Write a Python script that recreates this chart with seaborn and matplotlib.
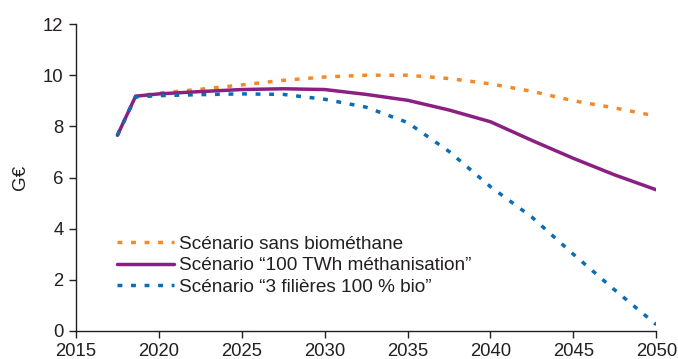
import seaborn as sns
import matplotlib.pyplot as plt
import pandas as pd

years = [2017.5, 2018.6, 2020, 2022.5, 2025, 2027.5, 2030, 2032.5, 2035,
         2037.5, 2040, 2042.5, 2045, 2047.5, 2050]
sans_bio = [7.65, 9.18, 9.3, 9.45, 9.62, 9.8, 9.93, 10.0, 10.0,
            9.87, 9.66, 9.37, 9.0, 8.72, 8.4]
twh_100 = [7.65, 9.18, 9.27, 9.36, 9.44, 9.47, 9.44, 9.25, 9.02,
           8.64, 8.18, 7.45, 6.75, 6.1, 5.52]
bio_100 = [7.65, 9.15, 9.2, 9.24, 9.27, 9.25, 9.06, 8.75, 8.15,
           7.02, 5.64, 4.45, 3.0, 1.6, 0.25]

labels = ["Scénario sans biométhane",
          "Scénario \u201c100 TWh méthanisation\u201d",
          "Scénario \u201c3 filières 100 % bio\u201d"]
colors = ["#f28a2b", "#8b1f82", "#0a6db5"]
x_ticks = [2015, 2020, 2025, 2030, 2035, 2040, 2045, 2050]
y_ticks = [0, 2, 4, 6, 8, 10, 12]

df = pd.concat([
    pd.DataFrame({"année": years, "valeur": vals, "scénario": lab})
    for vals, lab in zip([sans_bio, twh_100, bio_100], labels)
])

sns.set_style("ticks")
plt.rcParams['font.family'] = ['Liberation Sans', 'DejaVu Sans']
plt.rcParams['text.color'] = '#231f20'
plt.rcParams['axes.labelcolor'] = '#231f20'
plt.rcParams['xtick.color'] = '#231f20'
plt.rcParams['ytick.color'] = '#231f20'

fig = plt.figure(figsize=(6.78, 3.59), dpi=100)
ax = fig.add_axes([0.112, 0.078, 0.856, 0.855])

sns.lineplot(data=df, x="année", y="valeur", hue="scénario", style="scénario",
             hue_order=labels, style_order=labels,
             palette=dict(zip(labels, colors)),
             dashes={labels[0]: (1.4, 2.5), labels[1]: "", labels[2]: (1.4, 2.5)},
             linewidth=2.5, ax=ax)

ax.set_xlim(2015, 2050)
ax.set_ylim(0, 12)
ax.set_xticks(x_ticks)
ax.set_yticks(y_ticks)
ax.set_xlabel("")
ax.set_ylabel("G€", fontsize=13.5, labelpad=10)
ax.tick_params(labelsize=13.3, length=5, width=1, pad=4)
for s in ["left", "bottom"]:
    ax.spines[s].set_color('#231f20')
    ax.spines[s].set_linewidth(1)
sns.despine(ax=ax)

leg = ax.legend(loc="lower left", bbox_to_anchor=(0.058, 0.09), frameon=False,
                fontsize=13.7, handlelength=3.0, handletextpad=0.25,
                labelspacing=0.22, borderaxespad=0)

plt.savefig("out.png", dpi=100)
plt.close()
